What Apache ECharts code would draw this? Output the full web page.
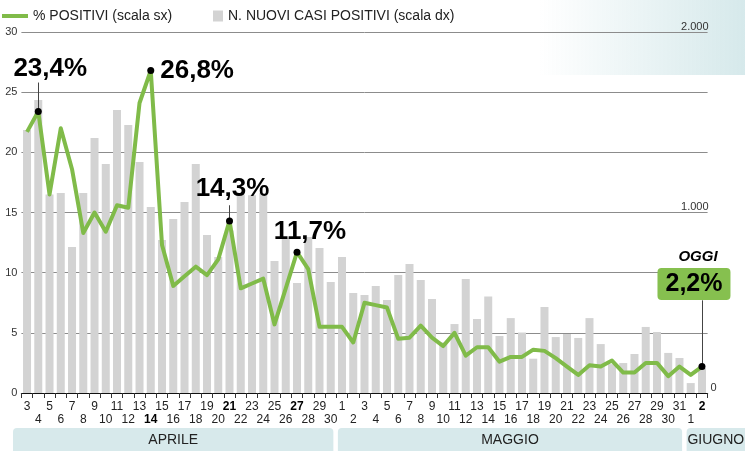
<!DOCTYPE html>
<html><head><meta charset="utf-8">
<script src="https://cdn.jsdelivr.net/npm/echarts@6/dist/echarts.min.js"></script>
<style>html,body{margin:0;padding:0;background:#fff}#c{width:745px;height:451px}</style>
</head><body><div id="c"></div>
<script>
const categories = ['3 apr','4 apr','5 apr','6 apr','7 apr','8 apr','9 apr','10 apr','11 apr','12 apr','13 apr','14 apr','15 apr','16 apr','17 apr','18 apr','19 apr','20 apr','21 apr','22 apr','23 apr','24 apr','25 apr','26 apr','27 apr','28 apr','29 apr','30 apr',
'1 mag','2 mag','3 mag','4 mag','5 mag','6 mag','7 mag','8 mag','9 mag','10 mag','11 mag','12 mag','13 mag','14 mag','15 mag','16 mag','17 mag','18 mag','19 mag','20 mag','21 mag','22 mag','23 mag','24 mag','25 mag','26 mag','27 mag','28 mag','29 mag','30 mag','31 mag',
'1 giu','2 giu'];
const pctPositive = [21.7,23.4,16.5,22.0,18.6,13.3,15.0,13.4,15.6,15.4,24.1,26.8,12.3,8.9,9.7,10.5,9.8,11.1,14.3,8.7,9.1,9.5,5.7,8.7,11.7,10.3,5.5,5.5,
5.5,4.2,7.5,7.3,7.1,4.5,4.6,5.6,4.6,3.9,5.0,3.1,3.8,3.8,2.6,3.0,3.0,3.6,3.5,2.9,2.2,1.5,2.3,2.2,2.7,1.7,1.7,2.5,2.5,1.4,2.2,
1.5,2.2];
const newCases = [1457,1623,1100,1108,809,1108,1413,1269,1568,1485,1280,1030,848,964,1058,1269,875,753,900,1100,1095,1108,731,860,609,864,803,615,
753,554,543,593,515,654,715,626,521,280,382,632,410,535,316,415,335,190,476,310,327,305,415,271,160,166,216,366,338,222,194,
55,138];
const boldDays = ['14 apr','21 apr','27 apr','2 giu'];
const calloutDays = ['4 apr','14 apr','21 apr','27 apr','2 giu'];
const calloutTexts = ['23,4%','26,8%','14,3%','11,7%','2,2%'];
const todayTag = 'OGGI';
const monthNames = ['APRILE','MAGGIO','GIUGNO'];
const monthStart = ['3 apr','1 mag','1 giu'];
const monthEnd = ['30 apr','31 mag','2 giu'];
const seriesNames = ['% POSITIVI (scala sx)','N. NUOVI CASI POSITIVI (scala dx)'];

const FONT = '"Liberation Sans", Arial, Helvetica, sans-serif';
const GREEN = '#80bb49';
const GREY = '#d3d3d3';

// callout label styling (positions are styling, not data)
const calloutStyle = [
  {position:'top', distance:26, offset:[12,0]},
  {position:'right', distance:6, offset:[0,0]},
  {position:'top', distance:16, offset:[3,0]},
  {position:'top', distance:4, offset:[13,0]},
  {position:'top', distance:63, offset:[-8,0]}
];
const leaderLen = [2.4, 0, 1.3, 0, 5.5];

const scatterData = calloutDays.map((d, k) => {
  const i = categories.indexOf(d);
  const isToday = k === calloutDays.length - 1;
  return {
    value: [i, pctPositive[i]],
    label: Object.assign({
      show: true,
      opacity: 1,
      fontFamily: FONT,
      fontSize: 26,
      fontWeight: 'bold',
      color: '#000',
      textBorderWidth: 0,
      formatter: isToday ? ('{o|' + todayTag + '}\n{b|' + calloutTexts[k] + '}') : calloutTexts[k],
      rich: isToday ? {
        o: {fontFamily: FONT, fontSize: 15, fontStyle: 'italic', fontWeight: 'bold', color: '#000', lineHeight: 22, align: 'center', padding:[0,0,0,8]},
        b: {fontFamily: FONT, fontSize: 25, fontWeight: 'bold', color: '#000', backgroundColor: '#86c04f', borderRadius: 4, padding: [4, 8, 3, 8], align: 'center'}
      } : undefined
    }, calloutStyle[k])
  };
});
const leaderData = calloutDays.map((d, k) => {
  const i = categories.indexOf(d);
  return [{coord: [i, pctPositive[i]]}, {coord: [i, pctPositive[i] + leaderLen[k]]}];
}).filter((p, k) => leaderLen[k] > 0);

const fmtThousands = v => String(v).replace(/\B(?=(\d{3})+(?!\d))/g, '.');

const option = {
  animation: false,
  textStyle: {fontFamily: FONT},
  legend: [
    {data: [{name: seriesNames[0], icon: 'rect'}], left: 2, top: 9, padding: 0, itemWidth: 26, itemHeight: 4,
     textStyle: {fontFamily: FONT, fontSize: 14, color: '#222'}, selectedMode: false},
    {data: [{name: seriesNames[1], icon: 'rect'}], left: 213, top: 9, padding: 0, itemWidth: 10, itemHeight: 11,
     textStyle: {fontFamily: FONT, fontSize: 14, color: '#222'}, selectedMode: false}
  ],
  grid: {left: 21.4, right: 37.4, top: 32, bottom: 58, containLabel: false},
  xAxis: {
    type: 'category', data: categories, boundaryGap: true,
    axisLine: {lineStyle: {color: '#111', width: 1.2}},
    axisTick: {show: true, interval: 0, length: 5, lineStyle: {color: '#333'}},
    axisLabel: {
      interval: 0, margin: 7, fontSize: 12, lineHeight: 13, color: '#222', fontFamily: FONT,
      formatter: (val, idx) => {
        const d = val.split(' ')[0];
        const t = boldDays.includes(val) ? '{b|' + d + '}' : '{n|' + d + '}';
        return idx % 2 ? '\n' + t : t;
      },
      rich: {
        n: {fontSize: 12, lineHeight: 13, color: '#222', fontFamily: FONT},
        b: {fontSize: 12, lineHeight: 13, color: '#000', fontWeight: 'bold', fontFamily: FONT}
      }
    },
    splitLine: {show: false}
  },
  yAxis: [
    {type: 'value', min: 0, max: 30, interval: 5, position: 'left',
     axisLine: {show: false}, axisTick: {show: false},
     axisLabel: {fontSize: 11, color: '#333', margin: 4, fontFamily: FONT},
     splitLine: {show: true, lineStyle: {color: '#8c8c8c', width: 1}}},
    {type: 'value', min: 0, max: 2000, interval: 1000, position: 'right',
     axisLine: {show: false}, axisTick: {show: false}, splitLine: {show: false},
     axisLabel: {inside: true, margin: -1, fontSize: 11, color: '#333', verticalAlign: 'bottom', fontFamily: FONT,
       formatter: v => v === 0 ? '' : fmtThousands(v)}},
    {type: 'value', min: 0, max: 2000, interval: 1000, position: 'right',
     axisLine: {show: false}, axisTick: {show: false}, splitLine: {show: false},
     axisLabel: {inside: false, margin: 3, fontSize: 11, color: '#333', verticalAlign: 'bottom', fontFamily: FONT,
       formatter: v => v === 0 ? fmtThousands(v) : ''}}
  ],
  series: [
    {name: seriesNames[1], type: 'bar', yAxisIndex: 1, data: newCases, barWidth: 8,
     itemStyle: {color: GREY}, z: 1},
    {name: seriesNames[0], type: 'line', yAxisIndex: 0, data: pctPositive, symbol: 'none',
     lineStyle: {color: GREEN, width: 4, join: 'round'}, itemStyle: {color: GREEN}, z: 3},
    {type: 'scatter', yAxisIndex: 0, data: scatterData, symbol: 'circle', symbolSize: 7,
     itemStyle: {color: '#000', opacity: 1}, z: 6,
     markLine: {silent: true, symbol: 'none', label: {show: false},
       lineStyle: {color: '#444', width: 1, type: 'solid', opacity: 1}, data: leaderData, z: 4}}
  ]
};

const chart = echarts.init(document.getElementById('c'), null, {renderer: 'canvas'});
chart.setOption(option);

const px = i => chart.convertToPixel({xAxisIndex: 0}, i);
const step = px(1) - px(0);
const graphics = [{
  type: 'rect', z: -10, shape: {x: 540, y: 0, width: 205, height: 75},
  style: {fill: new echarts.graphic.LinearGradient(0, 0, 1, 0, [
    {offset: 0, color: 'rgba(214,233,235,0)'}, {offset: 1, color: 'rgba(214,233,235,1)'}])},
  silent: true
}];
monthNames.forEach((m, k) => {
  const a = categories.indexOf(monthStart[k]), b = categories.indexOf(monthEnd[k]);
  let x0 = px(a) - step / 2 + 1.5;
  let x1 = px(b) + step / 2 - 3;
  if (k === 0) x0 = 13;
  if (k === monthNames.length - 1) x1 = 749;
  const cx = (x0 + Math.min(x1, 745)) / 2;
  graphics.push({type: 'rect', silent: true, shape: {x: x0, y: 428, width: x1 - x0, height: 30, r: 4},
    style: {fill: '#d7e9eb'}});
  graphics.push({type: 'text', silent: true, x: cx, y: 440,
    style: {text: m, align: 'center', verticalAlign: 'middle', font: '14px ' + FONT, fill: '#222'}});
});
chart.setOption({graphic: graphics});
</script></body></html>
